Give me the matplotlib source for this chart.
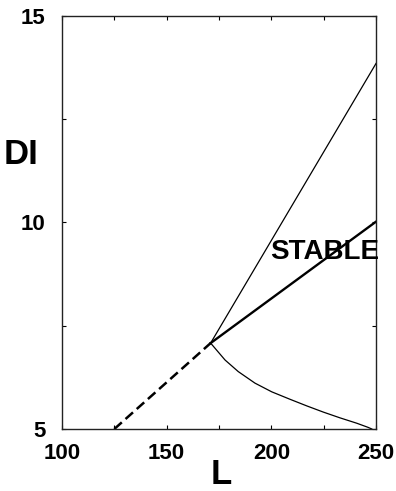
import matplotlib
matplotlib.use("Agg")
import matplotlib.pyplot as plt
from matplotlib.ticker import MultipleLocator

plt.rcParams['font.family'] = ['Liberation Sans', 'DejaVu Sans']
plt.rcParams['font.weight'] = 'bold'

# Data
unstable_L = [125, 171]
unstable_DI = [5.0, 7.08]
upper_L = [171, 250]
upper_DI = [7.08, 13.85]
stable_L = [171, 250]
stable_DI = [7.08, 10.02]
lower_L = [171, 177.9, 184.2, 192.2, 200.2, 208.9, 216.9, 224.8, 232.8, 240.8, 246.2, 248]
lower_DI = [7.08, 6.67, 6.39, 6.11, 5.90, 5.72, 5.56, 5.41, 5.27, 5.14, 5.04, 5.0]

xticks = [100, 150, 200, 250]
yticks = [5, 10, 15]

fig = plt.figure(figsize=(3.96, 4.91), dpi=100)
ax = fig.add_axes([62/396, 1-429/491, (376-62)/396, (429-16)/491])

ax.plot(unstable_L, unstable_DI, color='black', lw=1.8, dashes=(4, 2))
ax.plot(upper_L, upper_DI, color='black', lw=0.9)
ax.plot(stable_L, stable_DI, color='black', lw=1.7)
ax.plot(lower_L, lower_DI, color='black', lw=0.9)

ax.set_xlim(100, 250)
ax.set_ylim(5, 15)
ax.set_xticks(xticks)
ax.set_yticks(yticks)
ax.xaxis.set_minor_locator(MultipleLocator(25))
ax.yaxis.set_minor_locator(MultipleLocator(2.5))
ax.tick_params(which='both', direction='in', top=True, right=True, length=3, width=0.8)
ax.tick_params(axis='x', which='major', labelsize=16, pad=10)
ax.tick_params(axis='y', which='major', labelsize=16, pad=12)
for lab in ax.get_xticklabels() + ax.get_yticklabels():
    lab.set_fontweight('bold')
for s in ax.spines.values():
    s.set_linewidth(1.0)
    s.set_color('#222222')

ax.text(225.6, 9.29, 'STABLE', fontsize=20, fontweight='bold', ha='center', va='center')
fig.text(21/396, 1-155/491, 'DI', fontsize=25, fontweight='bold', ha='center', va='center')
fig.text(221/396, 1-474/491, 'L', fontsize=25, fontweight='bold', ha='center', va='center')

fig.savefig('out.png', dpi=100)
